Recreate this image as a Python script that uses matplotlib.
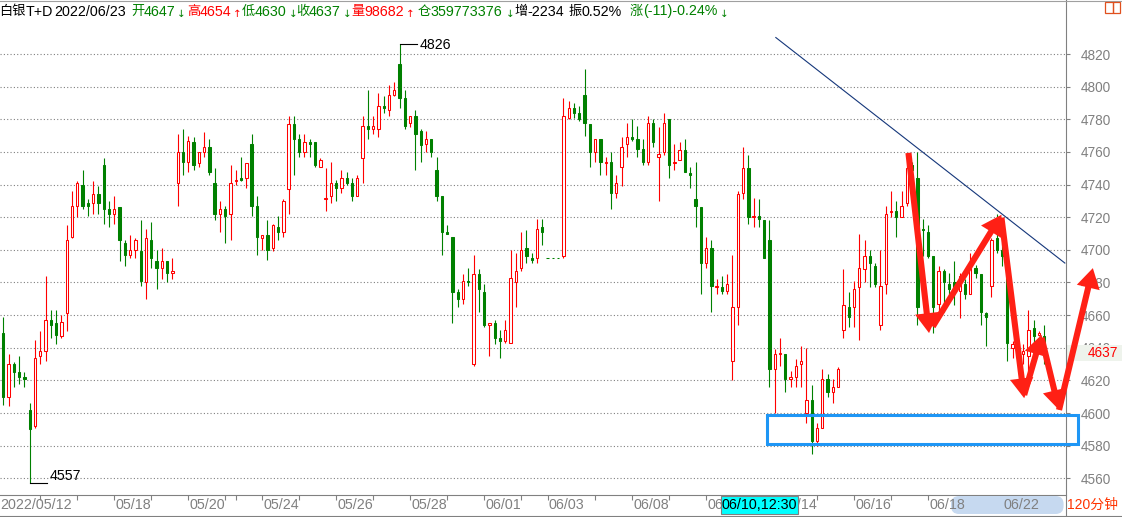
import matplotlib
matplotlib.use('Agg')
import matplotlib.pyplot as plt
from matplotlib.patches import Rectangle, FancyArrowPatch, FancyBboxPatch
from matplotlib.lines import Line2D
from matplotlib.transforms import blended_transform_factory, IdentityTransform
import numpy as np

plt.rcParams['font.family'] = ['Liberation Sans', 'Noto Sans CJK SC', 'DejaVu Sans']

# ---------------- data (120-minute bars, 白银T+D) ----------------
opens = [4649, 4610, 4630, 4625, 4622, 4602, 4592, 4635, 4638, 4657,
         4655, 4647, 4661, 4708, 4727, 4740, 4729, 4729, 4734, 4752,
         4725, 4722, 4726, 4704, 4697, 4700, 4699, 4680, 4706, 4693,
         4689, 4693, 4686, 4741, 4760, 4754, 4766, 4753, 4760, 4763,
         4741, 4722, 4725, 4722, 4742, 4744, 4744, 4765, 4727, 4707,
         4709, 4701, 4714, 4711, 4737, 4777, 4768, 4760, 4766, 4766,
         4751, 4731, 4733, 4741, 4738, 4744, 4741, 4733, 4756, 4776,
         4774, 4774, 4788, 4786, 4795, 4814, 4793, 4778, 4782, 4773,
         4765, 4768, 4749, 4733, 4711, 4708, 4674, 4670, 4681, 4630,
         4685, 4674, 4654, 4655, 4646, 4644, 4643, 4680, 4689, 4701,
         4695, 4695, 4714, 4695, 4695, 4695, 4696, 4781, 4787, 4784,
         4795, 4777, 4760, 4768, 4753, 4754, 4735, 4751, 4765, 4769,
         4768, 4762, 4754, 4778, 4757, 4760, 4780, 4753, 4755, 4761,
         4747, 4731, 4726, 4692, 4701, 4677, 4677, 4675, 4632, 4665,
         4735, 4750, 4720, 4721, 4718, 4706, 4627, 4636, 4636, 4621,
         4622, 4630, 4600, 4608, 4583, 4591, 4621, 4613, 4616, 4651,
         4665, 4665, 4677, 4688, 4696, 4690, 4654, 4679, 4723, 4724,
         4720, 4729, 4752, 4744, 4713, 4711, 4696, 4667, 4687, 4679,
         4680, 4675, 4679, 4673, 4689, 4685, 4661, 4678, 4707, 4700,
         4695, 4640, 4642, 4636, 4635, 4652, 4648, 4647]
highs = [4659, 4636, 4631, 4635, 4625, 4606, 4645, 4650, 4684, 4663,
         4663, 4660, 4715, 4736, 4742, 4749, 4731, 4742, 4739, 4756,
         4730, 4733, 4726, 4706, 4709, 4707, 4718, 4713, 4717, 4700,
         4701, 4693, 4695, 4771, 4774, 4770, 4769, 4760, 4772, 4768,
         4750, 4730, 4727, 4752, 4749, 4757, 4753, 4771, 4733, 4709,
         4718, 4716, 4721, 4731, 4782, 4782, 4771, 4771, 4768, 4766,
         4756, 4750, 4754, 4743, 4749, 4748, 4744, 4746, 4782, 4798,
         4782, 4796, 4794, 4801, 4803, 4826, 4798, 4782, 4786, 4774,
         4773, 4768, 4757, 4733, 4715, 4708, 4676, 4685, 4689, 4697,
         4688, 4679, 4655, 4657, 4651, 4657, 4700, 4698, 4711, 4712,
         4698, 4719, 4719, 4695, 4695, 4695, 4793, 4791, 4790, 4788,
         4811, 4777, 4768, 4768, 4757, 4760, 4746, 4769, 4778, 4780,
         4776, 4768, 4782, 4780, 4775, 4784, 4780, 4765, 4766, 4768,
         4751, 4754, 4726, 4708, 4706, 4682, 4684, 4685, 4697, 4736,
         4763, 4758, 4732, 4731, 4718, 4718, 4639, 4646, 4636, 4626,
         4633, 4641, 4640, 4617, 4594, 4627, 4624, 4621, 4628, 4688,
         4674, 4681, 4710, 4706, 4700, 4692, 4700, 4727, 4736, 4730,
         4736, 4755, 4754, 4760, 4719, 4715, 4696, 4690, 4688, 4686,
         4693, 4686, 4682, 4698, 4691, 4685, 4662, 4707, 4722, 4704,
         4696, 4644, 4646, 4642, 4663, 4657, 4650, 4654]
lows = [4605, 4604, 4616, 4618, 4616, 4557, 4591, 4630, 4632, 4646,
        4642, 4646, 4650, 4707, 4720, 4725, 4721, 4722, 4722, 4716,
        4714, 4716, 4693, 4690, 4695, 4695, 4678, 4670, 4689, 4676,
        4682, 4680, 4682, 4727, 4746, 4748, 4749, 4751, 4757, 4746,
        4718, 4711, 4704, 4706, 4740, 4742, 4738, 4721, 4697, 4700,
        4694, 4699, 4706, 4708, 4722, 4746, 4757, 4757, 4757, 4751,
        4751, 4724, 4729, 4730, 4735, 4740, 4730, 4733, 4741, 4768,
        4771, 4769, 4784, 4782, 4794, 4787, 4774, 4775, 4749, 4754,
        4760, 4757, 4730, 4697, 4710, 4655, 4665, 4667, 4678, 4629,
        4662, 4653, 4635, 4642, 4634, 4643, 4643, 4665, 4687, 4692,
        4692, 4692, 4703, 4695, 4695, 4695, 4695, 4780, 4781, 4779,
        4770, 4751, 4754, 4746, 4746, 4725, 4732, 4739, 4757, 4767,
        4757, 4752, 4752, 4763, 4730, 4758, 4744, 4749, 4755, 4748,
        4738, 4714, 4673, 4689, 4662, 4673, 4673, 4673, 4620, 4654,
        4731, 4716, 4714, 4714, 4695, 4616, 4600, 4629, 4613, 4616,
        4616, 4616, 4594, 4575, 4580, 4591, 4610, 4606, 4616, 4646,
        4653, 4653, 4645, 4680, 4677, 4677, 4651, 4673, 4720, 4708,
        4720, 4727, 4747, 4654, 4696, 4695, 4649, 4662, 4662, 4669,
        4666, 4658, 4670, 4673, 4683, 4654, 4641, 4671, 4698, 4690,
        4632, 4634, 4632, 4630, 4626, 4643, 4647, 4630]
closes = [4610, 4630, 4625, 4622, 4621, 4590, 4634, 4638, 4657, 4654,
          4648, 4656, 4706, 4727, 4741, 4727, 4727, 4734, 4729, 4725,
          4722, 4725, 4706, 4697, 4700, 4706, 4681, 4707, 4695, 4689,
          4693, 4686, 4687, 4760, 4754, 4767, 4752, 4760, 4763, 4748,
          4722, 4725, 4721, 4741, 4743, 4743, 4753, 4727, 4708, 4709,
          4700, 4715, 4711, 4730, 4777, 4768, 4760, 4766, 4765, 4752,
          4755, 4732, 4741, 4738, 4744, 4741, 4733, 4744, 4776, 4774,
          4776, 4788, 4787, 4795, 4798, 4793, 4776, 4782, 4771, 4764,
          4768, 4760, 4733, 4711, 4710, 4674, 4670, 4681, 4680, 4685,
          4676, 4654, 4655, 4646, 4644, 4651, 4683, 4687, 4700, 4696,
          4694, 4713, 4711, 4695, 4695, 4695, 4782, 4787, 4784, 4780,
          4778, 4760, 4768, 4754, 4754, 4735, 4741, 4763, 4769, 4768,
          4762, 4754, 4778, 4766, 4759, 4778, 4752, 4754, 4761, 4748,
          4746, 4727, 4692, 4701, 4678, 4678, 4675, 4679, 4665, 4734,
          4750, 4720, 4721, 4719, 4695, 4627, 4636, 4637, 4621, 4622,
          4629, 4632, 4608, 4583, 4591, 4621, 4613, 4616, 4627, 4666,
          4659, 4676, 4689, 4696, 4692, 4679, 4678, 4722, 4724, 4720,
          4727, 4750, 4749, 4665, 4712, 4696, 4665, 4687, 4680, 4676,
          4674, 4684, 4673, 4689, 4686, 4662, 4659, 4706, 4700, 4696,
          4643, 4642, 4636, 4638, 4651, 4647, 4649, 4637]

y_ticks = list(range(4560, 4821, 20))
day_ticks = [7, 14, 21, 28, 35, 42, 44, 49, 56, 63, 70, 77, 84, 91, 98, 103,
             112, 119, 126, 133, 140, 147, 154, 161, 168, 175, 182, 189, 196]
date_label_idx = [21, 35, 49, 63, 77, 91, 103, 119, 133, 147, 161, 175, 189]
date_label_txt = ['05/18', '05/20', '05/24', '05/26', '05/28', '06/01', '06/03',
                  '06/08', '06/10', '06/14', '06/16', '06/18', '06/22']
first_date = '2022/05/12'
cursor_label = '06/10,12:30'
period_label = '120分钟'
symbol_cjk = '白银'
symbol_lat = 'T+D'
volume_txt = '98682'
oi_txt = '359773376'
oi_change_txt = '-2234'
amp_txt = '0.52%'
chg_txt = '(-11)-0.24%'
header_date = '2022/06/23'

# hand-drawn annotations (bar index, price)
trend_x = [146.2, 200.9]
trend_y = [4830.1, 4691.9]
arrow_pts = [((171.3, 4759.4), (175.2, 4649.0)),
             ((175.9, 4653.0), (188.9, 4721.5)),
             ((188.9, 4719.7), (193.2, 4609.1)),
             ((193.2, 4611.1), (196.5, 4647.9)),
             ((196.5, 4646.1), (199.8, 4601.9)),
             ((199.8, 4601.9), (206.2, 4688.8))]
zone_x = [144.5, 203.4]
zone_y = [4581.0, 4598.8]

# ---------------- layout ----------------
W, H = 1122, 517
AX_RIGHT = 1066
AX_BOTTOM = 495
Y_REF_PX, Y_REF_P = 478.3, 4560
P_PER_PX = 0.6128
X0_PX, BAR_PX = 3.3, 5.284

RED = '#ff0000'
GREEN = '#008000'
GRAY = '#808080'

fig = plt.figure(figsize=(W / 100, H / 100), dpi=100)
ax = fig.add_axes([0, (H - AX_BOTTOM) / H, AX_RIGHT / W, AX_BOTTOM / H])
ax.set_xlim(-X0_PX / BAR_PX, (AX_RIGHT - X0_PX) / BAR_PX)
ax.set_ylim(Y_REF_P - (AX_BOTTOM - Y_REF_PX) * P_PER_PX, Y_REF_P + Y_REF_PX * P_PER_PX)


def idx_to_px(i):
    return X0_PX + i * BAR_PX


o = np.array(opens, float)
h = np.array(highs, float)
l = np.array(lows, float)
c = np.array(closes, float)
n = len(o)
idx = np.arange(n)
up = c > o
cols = np.where(up, RED, GREEN)

ax.vlines(idx, l, h, colors=cols, linewidth=0.8, zorder=2)
ax.bar(idx, np.abs(c - o), bottom=np.minimum(o, c), width=0.44,
       color=np.where(up, 'white', GREEN), edgecolor=cols, linewidth=0.75, zorder=3)

# grid / axes
ax.set_yticks(y_ticks)
ax.grid(axis='y', color=GRAY, linestyle=(0, (1, 2)), linewidth=0.8)
ax.set_axisbelow(True)
ax.yaxis.tick_right()
ax.tick_params(axis='y', direction='out', length=3, color=GRAY, labelcolor=GRAY,
               labelsize=9.8, pad=7.6)
ax.set_xticks(day_ticks)
ax.tick_params(axis='x', direction='out', length=3.6, color=GRAY, labelbottom=False)
for s in ['left', 'top', 'right']:
    ax.spines[s].set_visible(False)
ax.spines['bottom'].set_color(GRAY)
ax.spines['bottom'].set_linewidth(0.8)

# right separator line (full height)
ax.plot([1, 1], [-(H - AX_BOTTOM) / AX_BOTTOM, 1], transform=ax.transAxes,
        color=GRAY, lw=0.8, clip_on=False, zorder=5)

# trend line
ax.plot(trend_x, trend_y, color='#14367a', lw=0.8, zorder=4)

# max / min markers
imax = int(np.argmax(h))
imin = int(np.argmin(l))
ax.plot([imax, imax + 3.3], [h[imax], h[imax]], color='black', lw=0.8, zorder=4)
ax.text(imax + 3.75, h[imax] - 0.6, f'{int(h[imax])}', ha='left', va='center',
        fontsize=10.2, color='black', zorder=4)
ax.plot([imin, imin + 3.3], [l[imin], l[imin]], color='black', lw=0.8, zorder=4)
ax.text(imin + 3.75, l[imin] + 1.9, f'{int(l[imin])}', ha='left', va='baseline',
        fontsize=10.2, color='black', zorder=4)

# last price box on right axis
bt = blended_transform_factory(ax.transAxes, ax.transData)
bh = 16 * P_PER_PX
ax.add_patch(Rectangle((1067 / AX_RIGHT, c[-1] - bh / 2), (W - 1067) / AX_RIGHT, bh,
                       transform=bt, facecolor='#eef3ec', edgecolor='none',
                       clip_on=False, zorder=4))
ax.text(1088 / AX_RIGHT, c[-1], f'{int(c[-1])}', transform=bt, ha='left', va='center',
        fontsize=9.8, color=RED, clip_on=False, zorder=4.5)

# blue support zone
ax.add_patch(Rectangle((zone_x[0], zone_y[0]), zone_x[1] - zone_x[0], zone_y[1] - zone_y[0],
                       fill=False, edgecolor='#1e96f5', linewidth=2.2, clip_on=False, zorder=5))

# red arrows
for (a, b) in arrow_pts:
    ax.add_patch(FancyArrowPatch(a, b, arrowstyle='simple,head_length=1.1,head_width=1.3,tail_width=0.34',
                                 mutation_scale=13, color='#ff2015', shrinkA=0, shrinkB=0,
                                 clip_on=False, zorder=6, lw=0))

# ---------------- date axis ----------------
LABEL_Y = 1 - 505 / H
fig.patches.append(FancyBboxPatch((951, H - 514), 1063.6 - 951, 18,
                                  boxstyle='round,pad=0,rounding_size=8',
                                  transform=IdentityTransform(), facecolor='#c6d9f0',
                                  edgecolor='none', zorder=1))
fig.text(0 / W, LABEL_Y, first_date, ha='left', va='center', fontsize=10.3, color=GRAY, zorder=3)
for k, lab in zip(date_label_idx, date_label_txt):
    fig.text((idx_to_px(k) + 1.2) / W, LABEL_Y, lab, ha='left', va='center',
             fontsize=10.3, color=GRAY, zorder=3)
fig.patches.append(Rectangle((720.6 / W, 1 - 514 / H), 77.8 / W, 18 / H,
                             transform=fig.transFigure, facecolor='#00ffff',
                             edgecolor=GRAY, lw=0.8, zorder=4))
fig.text(759.5 / W, LABEL_Y, cursor_label, ha='center', va='center', fontsize=10.3,
         color='black', zorder=5)
fig.lines.append(Line2D([0, 1], [1 - 516 / H, 1 - 516 / H], transform=fig.transFigure,
                        color=GRAY, lw=0.8))
fig.text(1067 / W, LABEL_Y, period_label, ha='left', va='center', fontsize=10,
         color='#ff3300', zorder=5)

# top line and small icon
fig.lines.append(Line2D([0, 1], [1 - 0.5 / H, 1 - 0.5 / H], transform=fig.transFigure,
                        color='#a0a0a0', lw=0.8))
for x0 in (1105, 1112.5):
    fig.patches.append(Rectangle((x0 / W, 1 - 13 / H), 7.5 / W, 11 / H,
                                 transform=fig.transFigure, fill=False,
                                 edgecolor='#e0501e', lw=0.9, zorder=3))

# ---------------- header ----------------
HY = 1 - 11.5 / H
AY = 1 - 14 / H
segs = [
    (symbol_cjk, -1, 'black', 'cjk'), (symbol_lat, 26, 'black', 'num'),
    (header_date, 54, 'black', 'num'),
    ('开', 131, GREEN, 'cjk'), (f'{int(o[-1])}', 144, GREEN, 'num'), ('↓', 177, GREEN, 'arr'),
    ('高', 187, RED, 'cjk'), (f'{int(h[-1])}', 200, RED, 'num'), ('↑', 232.5, RED, 'arr'),
    ('低', 241.6, GREEN, 'cjk'), (f'{int(l[-1])}', 255, GREEN, 'num'), ('↓', 288.5, GREEN, 'arr'),
    ('收', 296, GREEN, 'cjk'), (f'{int(c[-1])}', 309, GREEN, 'num'), ('↓', 343, GREEN, 'arr'),
    ('量', 351.6, RED, 'cjk'), (volume_txt, 364, RED, 'num'), ('↑', 405.5, RED, 'arr'),
    ('仓', 417.6, GREEN, 'cjk'), (oi_txt, 430, GREEN, 'num'), ('↓', 505.5, GREEN, 'arr'),
    ('增', 514, 'black', 'cjk'), (oi_change_txt, 527.6, 'black', 'num'),
    ('振', 568.6, 'black', 'cjk'), (amp_txt, 581, 'black', 'num'),
    ('涨', 630, GREEN, 'cjk'), (chg_txt, 643, GREEN, 'num'), ('↓', 719.5, GREEN, 'arr'),
]
for txt, x, col, kind in segs:
    if kind == 'arr':
        fig.text(x / W, AY, txt, ha='left', va='center', fontsize=7.5, color=col,
                 family=['DejaVu Sans'])
    elif kind == 'cjk':
        fig.text(x / W, HY, txt, ha='left', va='center', fontsize=9.5, color=col,
                 family=['Noto Sans CJK SC'])
    else:
        fig.text(x / W, HY, txt, ha='left', va='center', fontsize=10.3, color=col)

fig.savefig('out.png', dpi=100)
